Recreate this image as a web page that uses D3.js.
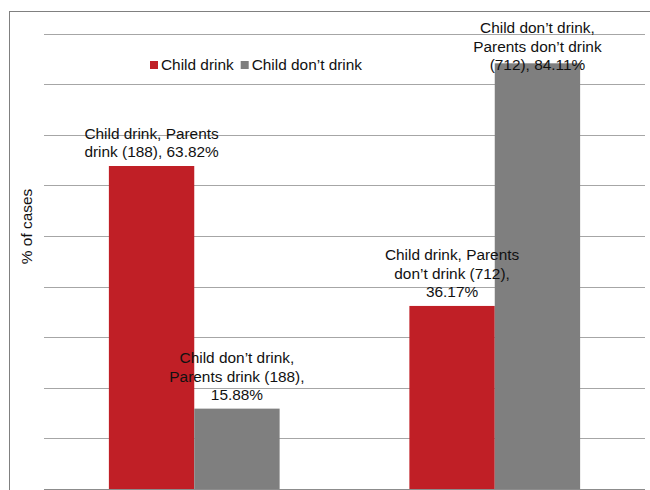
<!DOCTYPE html>
<html>
<head>
<meta charset="utf-8">
<script src="https://cdn.jsdelivr.net/npm/d3@7"></script>
<style>
    body { margin: 0; background: #fff; }
    text { font-family: "Liberation Sans", Arial, sans-serif; }
</style>
</head>
<body>
<script>
const WIDTH = 650;
const HEIGHT = 490;
const FONT = 15.4;

// data
const groups = ["Parents drink (188)", "Parents don\u2019t drink (712)"];
const series = ["Child drink", "Child don\u2019t drink"];
const childDrink = [63.82, 36.17];
const childDontDrink = [15.88, 84.11];
const yTicks = [0, 10, 20, 30, 40, 50, 60, 70, 80, 90];
// data label lines, per group then per series
const labelLines = [
    [["Child drink, Parents", "drink (188), 63.82%"],
     ["Child don\u2019t drink,", "Parents drink (188),", "15.88%"]],
    [["Child drink, Parents", "don\u2019t drink (712),", "36.17%"],
     ["Child don\u2019t drink,", "Parents don\u2019t drink", "(712), 84.11%"]]
];
const colors = ["#c01f26", "#7f7f7f"];

const plot = { left: 44, right: 645, top: 33.5, bottom: 489 };

var svg = d3.select("body").append("svg")
    .attr("width", WIDTH)
    .attr("height", HEIGHT);

// chart frame (cropped on the right and bottom)
svg.append("rect")
    .attr("x", 9.5).attr("y", 11.5)
    .attr("width", 700).attr("height", 600)
    .attr("fill", "#fff")
    .attr("stroke", "#808080")
    .attr("stroke-width", 1);

var y = d3.scaleLinear().domain([0, 90]).range([plot.bottom, plot.top]);
var x0 = d3.scaleBand().domain(groups).range([plot.left, plot.right]);
var x1 = d3.scaleBand().domain(series).range([0, x0.bandwidth()])
    .paddingInner(0).paddingOuter(0.76);

// gridlines
svg.append("g").selectAll("line")
    .data(yTicks)
    .join("line")
    .attr("x1", plot.left).attr("x2", plot.right)
    .attr("y1", d => Math.round(y(d)) + 0.5)
    .attr("y2", d => Math.round(y(d)) + 0.5)
    .attr("stroke", d => d === 0 ? "#8c8c8c" : "#a6a6a6")
    .attr("stroke-width", 1.2);

// bars
var rows = groups.map((g, i) => ({ group: g, i: i, values: [childDrink[i], childDontDrink[i]] }));

var gGroup = svg.append("g").selectAll("g")
    .data(rows)
    .join("g")
    .attr("transform", d => "translate(" + x0(d.group) + ",0)");

gGroup.selectAll("rect")
    .data(d => d.values.map((v, j) => ({ s: series[j], j: j, v: v })))
    .join("rect")
    .attr("x", d => x1(d.s))
    .attr("width", x1.bandwidth())
    .attr("y", d => y(d.v))
    .attr("height", d => y(0) - y(d.v))
    .attr("fill", d => colors[d.j]);

// data labels
const LINE_H = 18.5;
rows.forEach(function (r) {
    r.values.forEach(function (v, j) {
        let lines = labelLines[r.i][j];
        let cx = x0(r.group) + x1(series[j]) + x1.bandwidth() / 2;
        let first = y(v) - 8.5 - (lines.length - 1) * LINE_H;
        if (first < 33.3) first = 33.3;
        let t = svg.append("text")
            .attr("text-anchor", "middle")
            .attr("font-size", FONT)
            .attr("fill", "#111");
        lines.forEach(function (ln, k) {
            t.append("tspan")
                .attr("x", cx)
                .attr("y", first + k * LINE_H)
                .text(ln);
        });
    });
});

// legend
var legend = svg.append("g").attr("transform", "translate(150,61)");
var lx = [0, 90.7];
series.forEach(function (s, j) {
    legend.append("rect")
        .attr("x", lx[j]).attr("y", 0)
        .attr("width", 8).attr("height", 8)
        .attr("fill", colors[j]);
    legend.append("text")
        .attr("x", lx[j] + 11)
        .attr("y", 8.5)
        .attr("font-size", FONT)
        .attr("fill", "#111")
        .text(s);
});

// y axis title
svg.append("text")
    .attr("transform", "translate(31.5,226.5) rotate(-90)")
    .attr("text-anchor", "middle")
    .attr("font-size", FONT)
    .attr("fill", "#111")
    .text("% of cases");
</script>
</body>
</html>
